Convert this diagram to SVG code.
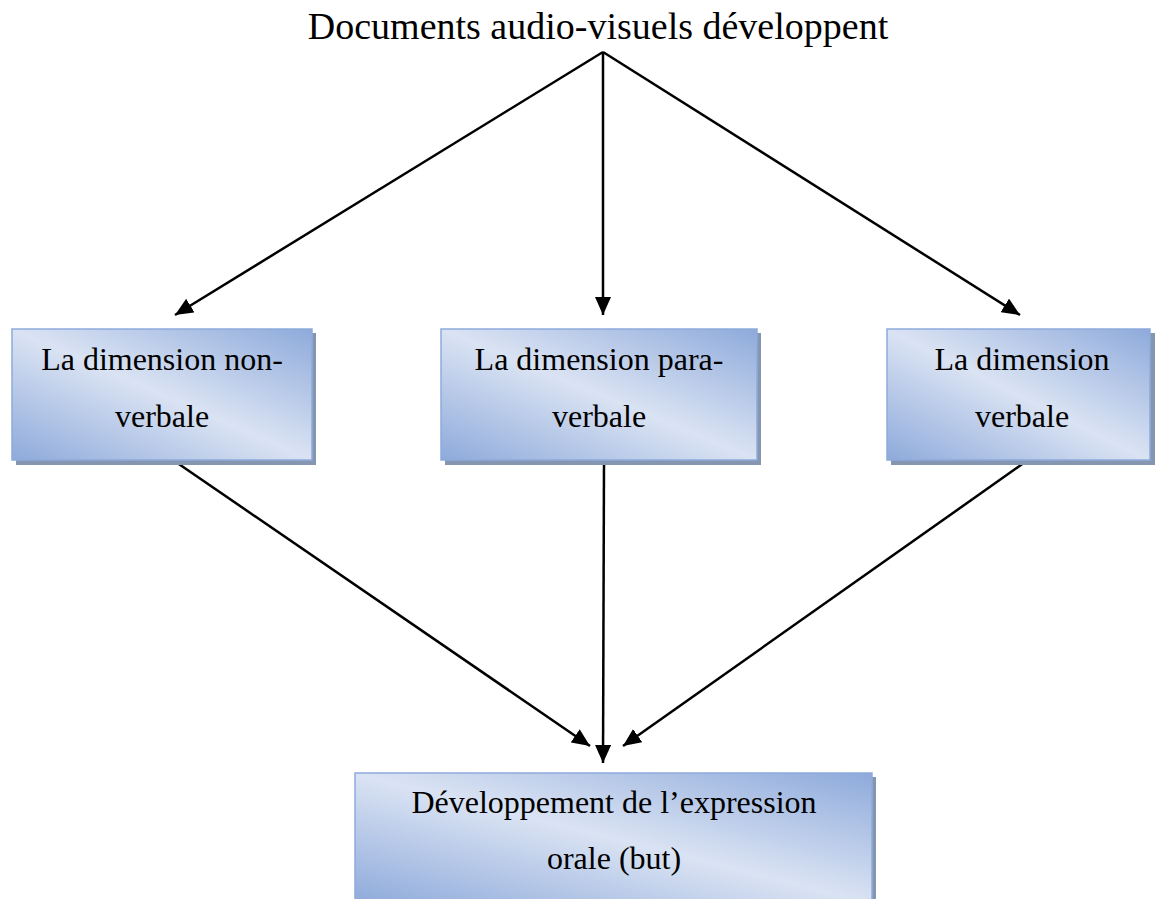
<svg xmlns="http://www.w3.org/2000/svg" width="1157" height="899" viewBox="0 0 1157 899">
<style>
.box{fill:url(#g);stroke:#8eaadb;stroke-width:1.5}
.shadow{fill:#8496b0}
.t{font-family:"Liberation Serif","Times New Roman",serif;font-size:32px;fill:#000;text-anchor:middle}
.title{font-size:38px}
.c{stroke:#000;stroke-width:2.5;fill:none;marker-end:url(#ah)}
</style>
<defs>
<linearGradient id="g" x1="1" y1="0" x2="0" y2="1">
<stop offset="0" stop-color="#8eaadb"/>
<stop offset="0.5" stop-color="#dae3f3"/>
<stop offset="1" stop-color="#8eaadb"/>
</linearGradient>
<marker id="ah" viewBox="0 0 18 16" refX="18" refY="8" markerWidth="18" markerHeight="16" markerUnits="userSpaceOnUse" orient="auto">
<path d="M0,0 L18,8 L0,16 z" fill="#000"/>
</marker>
</defs>
<rect width="1157" height="899" fill="#fff"/>
<g id="title">
<text class="t title" x="598" y="39">Documents audio-visuels développent</text>
</g>
<g id="connectors">
<line class="c" x1="603" y1="52" x2="175" y2="315"/>
<line class="c" x1="603" y1="52" x2="603" y2="315"/>
<line class="c" x1="603" y1="52" x2="1020" y2="315"/>
<line class="c" x1="173" y1="460" x2="590" y2="746"/>
<line class="c" x1="604" y1="460" x2="603" y2="763"/>
<line class="c" x1="1028" y1="460" x2="623" y2="746"/>
</g>
<g id="node-nonverbale">
<rect class="shadow" x="16" y="333" width="300" height="132"/>
<rect class="box" x="12" y="329" width="300" height="131"/>
<text class="t" x="162" y="370">La dimension non-</text>
<text class="t" x="162" y="427">verbale</text>
</g>
<g id="node-paraverbale">
<rect class="shadow" x="445" y="333" width="316" height="132"/>
<rect class="box" x="441" y="329" width="316" height="131"/>
<text class="t" x="599" y="370">La dimension para-</text>
<text class="t" x="599" y="427">verbale</text>
</g>
<g id="node-verbale">
<rect class="shadow" x="891" y="333" width="264" height="132"/>
<rect class="box" x="887" y="329" width="263" height="131"/>
<text class="t" x="1022" y="370">La dimension</text>
<text class="t" x="1022" y="427">verbale</text>
</g>
<g id="node-expression">
<rect class="shadow" x="359" y="777" width="517" height="135"/>
<rect class="box" x="355" y="773" width="517" height="131"/>
<text class="t" x="614" y="813">Développement de l’expression</text>
<text class="t" x="614" y="869">orale (but)</text>
</g>
</svg>
